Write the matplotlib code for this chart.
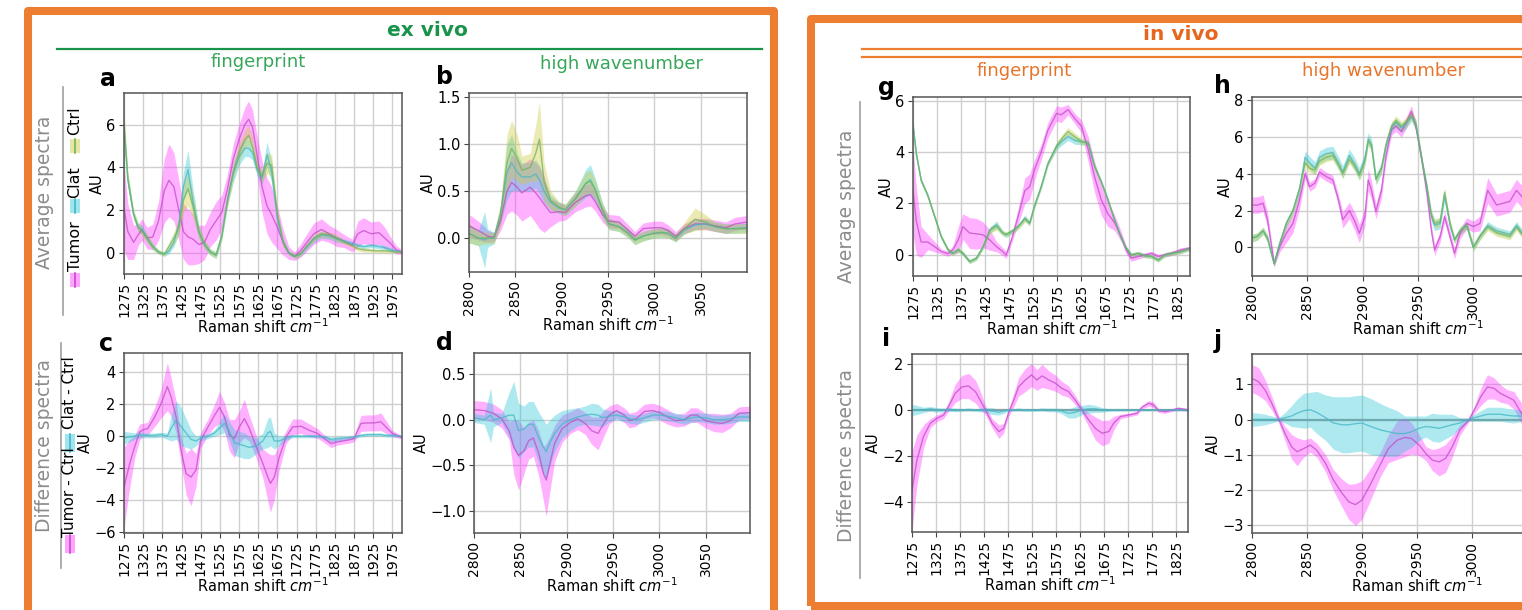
import matplotlib
matplotlib.use("Agg")
import matplotlib.pyplot as plt
import numpy as np
from matplotlib.patches import Rectangle
from matplotlib.lines import Line2D

# ---------------- data ----------------
# (a) ex vivo, fingerprint, average spectra
A_X = [1275,1285,1300,1312,1322,1335,1350,1365,1380,1392,1405,1418,1430,1442,1455,1470,1485,1500,1515,1530,
       1545,1560,1575,1590,1600,1610,1622,1635,1648,1660,1675,1690,1705,1720,1735,1750,1770,1790,1810,1830,
       1850,1870,1885,1900,1920,1940,1955,1970,1985,2000]
A_TUMOR = [2.1,1.0,0.5,0.85,1.1,0.7,0.75,1.5,2.9,3.4,3.1,2.0,1.0,0.75,0.65,0.4,0.5,1.1,1.5,1.9,
           3.0,4.4,5.3,6.0,6.25,5.9,4.6,3.1,2.2,1.8,1.2,0.5,0.0,-0.15,0.1,0.45,0.9,1.1,0.9,0.7,
           0.55,0.35,0.9,1.05,0.9,0.95,0.7,0.45,0.15,0.05]
A_TUMOR_SD = [2.0,1.3,0.8,0.5,0.5,0.5,0.6,0.9,1.5,1.7,1.6,1.4,1.3,1.3,1.2,0.9,0.8,0.8,0.9,0.8,
              0.7,0.7,0.7,0.8,0.85,0.8,0.9,1.2,1.3,1.3,1.0,0.6,0.3,0.2,0.3,0.4,0.5,0.5,0.4,0.4,
              0.3,0.3,0.6,0.6,0.55,0.55,0.5,0.3,0.2,0.1]
A_CLAT = [5.8,3.4,1.8,1.2,1.1,0.7,0.3,0.05,-0.05,0.1,0.5,1.3,3.1,3.9,2.4,1.0,0.4,0.05,-0.1,0.8,
          2.5,3.7,4.5,4.9,4.9,4.7,3.9,3.5,4.6,3.8,1.6,0.5,0.0,-0.15,-0.05,0.25,0.65,0.85,0.8,0.65,
          0.55,0.45,0.35,0.3,0.35,0.3,0.25,0.15,0.1,0.05]
A_CLAT_SD = [0.5,0.3,0.2,0.2,0.2,0.2,0.15,0.1,0.1,0.15,0.2,0.4,0.7,0.9,0.6,0.3,0.2,0.15,0.15,0.2,
             0.3,0.4,0.4,0.4,0.4,0.35,0.3,0.3,0.6,0.5,0.3,0.2,0.1,0.1,0.1,0.1,0.15,0.15,0.15,0.15,
             0.1,0.1,0.1,0.1,0.1,0.1,0.1,0.1,0.05,0.05]
A_CTRL = [6.1,3.5,1.8,1.2,1.0,0.7,0.3,0.05,-0.05,0.3,0.7,1.2,2.5,3.0,2.2,1.0,0.4,0.05,-0.1,0.8,
          2.5,3.8,4.7,5.3,5.5,5.0,4.0,3.6,4.2,4.1,1.8,0.5,0.0,-0.15,-0.05,0.3,0.7,0.9,0.85,0.7,
          0.5,0.35,0.2,0.15,0.12,0.1,0.1,0.08,0.05,0.03]
A_CTRL_SD = [0.5,0.3,0.2,0.2,0.2,0.2,0.15,0.1,0.1,0.2,0.3,0.4,0.6,0.8,0.6,0.3,0.2,0.15,0.15,0.2,
             0.3,0.4,0.4,0.45,0.45,0.4,0.3,0.3,0.5,0.5,0.3,0.2,0.1,0.1,0.1,0.1,0.15,0.15,0.15,0.15,
             0.1,0.1,0.1,0.1,0.08,0.08,0.08,0.08,0.05,0.05]

# (b) ex vivo, high wavenumber, average spectra
B_X = [2800,2810,2817,2820,2827,2834,2841,2846,2852,2857,2866,2872,2876,2881,2888,2897,2904,2915,2926,2931,
       2936,2944,2951,2962,2972,2979,2988,2999,3008,3015,3023,3032,3044,3055,3066,3077,3087,3100]
B_TUMOR = [0.13,0.08,0.04,0.02,0.01,0.18,0.5,0.59,0.54,0.48,0.54,0.48,0.43,0.36,0.27,0.28,0.27,0.38,0.45,0.46,
           0.39,0.25,0.18,0.17,0.08,0.02,0.1,0.11,0.11,0.08,0.02,0.1,0.15,0.15,0.13,0.11,0.15,0.17]
B_TUMOR_SD = [0.12,0.1,0.08,0.06,0.05,0.1,0.25,0.3,0.3,0.3,0.3,0.32,0.33,0.3,0.15,0.1,0.08,0.1,0.12,0.12,
              0.1,0.08,0.07,0.07,0.06,0.05,0.06,0.07,0.07,0.06,0.05,0.05,0.06,0.06,0.06,0.06,0.07,0.07]
B_CLAT = [0.05,0.0,-0.02,0.0,0.0,0.25,0.7,0.8,0.7,0.65,0.65,0.68,0.62,0.5,0.38,0.32,0.3,0.42,0.58,0.62,
          0.52,0.3,0.15,0.12,0.05,-0.02,0.02,0.05,0.06,0.05,0.0,0.08,0.14,0.15,0.12,0.1,0.1,0.11]
B_CLAT_SD = [0.1,0.08,0.3,0.1,0.06,0.1,0.3,0.3,0.2,0.15,0.15,0.15,0.15,0.12,0.08,0.06,0.06,0.08,0.15,0.16,
             0.12,0.08,0.06,0.05,0.05,0.05,0.05,0.05,0.05,0.05,0.04,0.04,0.05,0.05,0.05,0.05,0.05,0.05]
B_CTRL = [0.05,0.0,0.0,0.0,0.0,0.25,0.8,0.95,0.85,0.72,0.75,0.9,1.05,0.6,0.4,0.33,0.3,0.42,0.58,0.6,
          0.52,0.3,0.15,0.12,0.05,-0.02,0.02,0.05,0.06,0.05,0.0,0.1,0.2,0.17,0.12,0.1,0.1,0.1]
B_CTRL_SD = [0.1,0.08,0.06,0.06,0.06,0.12,0.3,0.3,0.25,0.15,0.15,0.3,0.4,0.2,0.1,0.06,0.06,0.08,0.12,0.12,
             0.1,0.08,0.06,0.05,0.05,0.05,0.05,0.05,0.05,0.05,0.04,0.06,0.12,0.08,0.05,0.05,0.05,0.05]

# (c) ex vivo, fingerprint, difference spectra
C_X = [1275,1290,1303,1316,1325,1337,1355,1372,1388,1398,1411,1424,1437,1450,1463,1475,1494,1511,1524,1537,
       1550,1563,1576,1589,1602,1620,1637,1650,1657,1667,1680,1698,1715,1737,1758,1780,1797,1815,1832,1858,
       1875,1893,1910,1927,1945,1958,1975,2000]
C_TUMOR = [-3.2,-1.7,-0.65,0.27,0.4,0.48,1.2,2.05,3.1,2.45,1.2,-0.9,-2.35,-2.55,-2.1,-0.25,0.58,1.3,1.8,1.2,
           0.06,-0.15,0.58,1.1,0.48,-0.67,-1.7,-2.55,-2.95,-2.55,-1.3,-0.04,0.58,0.62,0.37,0.17,-0.15,-0.46,-0.35,-0.25,
           -0.15,0.8,0.83,0.83,0.9,0.58,0.17,-0.08]
C_TUMOR_SD = [2.5,1.5,0.7,0.5,0.4,0.4,0.6,0.9,1.5,1.2,1.0,0.8,1.3,1.8,1.0,0.5,0.5,0.7,1.0,0.9,
              1.0,1.2,1.0,1.2,0.8,0.7,0.9,1.5,1.8,1.4,0.8,0.4,0.5,0.45,0.4,0.3,0.25,0.25,0.2,0.2,
              0.2,0.5,0.5,0.5,0.55,0.4,0.2,0.1]
C_CLAT = [-0.1,-0.05,0.0,0.1,0.05,0.05,0.05,0.1,0.0,0.5,1.0,0.6,0.2,-0.2,-0.3,-0.1,0.0,0.2,0.5,0.8,
          0.3,-0.4,-0.5,-0.6,-0.7,-0.6,-0.3,0.2,0.3,-0.3,-0.3,-0.1,0.0,0.0,0.0,0.0,-0.05,-0.2,-0.15,-0.1,
          -0.05,0.05,0.1,0.1,0.1,0.05,0.05,0.0]
C_CLAT_SD = [0.4,0.3,0.2,0.2,0.15,0.15,0.15,0.15,0.2,0.8,1.2,1.2,0.9,0.6,0.3,0.2,0.15,0.2,0.4,0.6,
             0.6,0.8,0.8,0.8,0.7,0.5,0.5,0.9,0.9,0.5,0.3,0.15,0.1,0.1,0.1,0.1,0.1,0.15,0.15,0.1,
             0.1,0.1,0.1,0.1,0.1,0.1,0.1,0.05]

# (d) ex vivo, high wavenumber, difference spectra
D_X = [2800,2811,2818,2821,2830,2838,2843,2848,2854,2859,2864,2870,2875,2878,2882,2887,2895,2904,2912,2920,
       2927,2934,2939,2946,2954,2962,2968,2975,2984,2993,3000,3009,3018,3027,3034,3041,3050,3059,3068,3077,
       3086,3100]
D_TUMOR = [0.11,0.1,0.08,0.07,0.01,-0.12,-0.3,-0.39,-0.34,-0.23,-0.2,-0.37,-0.59,-0.66,-0.48,-0.26,-0.1,-0.03,0.01,-0.04,
           -0.12,-0.15,-0.06,0.05,0.1,0.05,-0.01,0.01,0.09,0.1,0.08,0.03,-0.01,0.0,0.05,0.05,-0.01,-0.03,-0.04,-0.01,
           0.07,0.08]
D_TUMOR_SD = [0.1,0.1,0.1,0.1,0.1,0.1,0.3,0.38,0.25,0.2,0.2,0.25,0.3,0.4,0.3,0.2,0.15,0.12,0.12,0.12,
              0.15,0.18,0.15,0.1,0.08,0.08,0.08,0.08,0.08,0.08,0.08,0.08,0.07,0.07,0.08,0.08,0.08,0.1,0.1,0.08,
              0.07,0.07]
D_CLAT = [0.02,0.0,0.05,0.0,0.02,0.05,0.05,-0.12,-0.1,-0.05,-0.05,-0.2,-0.3,-0.35,-0.25,-0.15,-0.05,0.0,0.03,0.05,
          0.06,0.05,0.02,0.04,0.05,0.03,0.01,0.0,0.02,0.05,0.05,0.04,0.02,0.0,0.02,0.03,0.02,0.0,0.0,0.01,
          0.03,0.03]
D_CLAT_SD = [0.05,0.05,0.3,0.08,0.05,0.25,0.37,0.3,0.25,0.25,0.25,0.28,0.3,0.3,0.25,0.2,0.15,0.12,0.1,0.1,
             0.12,0.12,0.1,0.06,0.05,0.05,0.05,0.05,0.05,0.05,0.05,0.05,0.05,0.05,0.05,0.05,0.05,0.05,0.05,0.05,
             0.05,0.05]

# (g) in vivo, fingerprint, average spectra
G_X = [1275,1282,1292,1306,1320,1334,1348,1358,1369,1379,1393,1407,1421,1435,1449,1462,1469,1480,1494,1508,
       1518,1528,1542,1556,1574,1584,1598,1612,1626,1640,1653,1667,1681,1695,1709,1719,1730,1744,1758,1772,
       1786,1799,1813,1834,1852]
G_TUMOR = [2.5,1.3,0.5,0.5,0.32,0.13,0.05,0.2,0.58,1.1,0.85,0.82,0.78,0.58,0.32,0.13,0.0,0.58,1.5,2.5,
           2.65,3.3,4.0,4.85,5.5,5.45,5.65,5.3,5.0,4.1,3.05,2.15,1.6,1.25,0.7,0.2,-0.13,-0.06,0.0,0.06,
           -0.06,0.0,0.06,0.2,0.26]
G_TUMOR_SD = [1.7,1.3,0.6,0.3,0.2,0.1,0.1,0.15,0.5,0.5,0.6,0.6,0.5,0.4,0.2,0.15,0.15,0.15,0.3,0.5,
              0.5,0.4,0.3,0.3,0.3,0.3,0.2,0.2,0.25,0.5,0.6,0.6,0.5,0.3,0.2,0.15,0.12,0.1,0.08,0.08,
              0.08,0.08,0.08,0.08,0.08]
G_CLAT = [5.1,3.95,2.9,2.3,1.5,0.7,0.2,0.06,0.2,0.06,-0.26,-0.13,0.32,0.97,1.17,0.85,0.78,0.9,1.1,1.43,
          1.23,1.9,2.65,3.55,4.2,4.4,4.6,4.45,4.4,4.35,3.45,2.85,2.15,1.35,0.65,0.26,0.0,0.06,-0.03,-0.06,
          -0.2,0.0,0.06,0.13,0.26]
G_CLAT_SD = [0.1,0.1,0.08,0.08,0.08,0.08,0.08,0.08,0.1,0.08,0.08,0.08,0.1,0.12,0.15,0.1,0.1,0.1,0.1,0.12,
             0.1,0.1,0.1,0.1,0.12,0.15,0.15,0.15,0.12,0.1,0.1,0.08,0.08,0.08,0.08,0.08,0.08,0.08,0.08,0.08,
             0.08,0.08,0.08,0.08,0.08]
G_CTRL = [5.0,3.9,2.9,2.3,1.5,0.7,0.2,0.06,0.2,0.06,-0.26,-0.13,0.32,0.95,1.12,0.85,0.8,0.9,1.1,1.4,
          1.23,1.9,2.65,3.55,4.25,4.5,4.8,4.6,4.4,4.35,3.45,2.85,2.15,1.35,0.65,0.26,0.0,0.06,-0.03,-0.06,
          -0.2,0.0,0.06,0.13,0.26]
G_CTRL_SD = [0.1,0.1,0.08,0.08,0.08,0.08,0.08,0.08,0.1,0.08,0.08,0.08,0.1,0.12,0.15,0.1,0.1,0.1,0.1,0.12,
             0.1,0.1,0.1,0.1,0.12,0.15,0.15,0.15,0.12,0.1,0.1,0.08,0.08,0.08,0.08,0.08,0.08,0.08,0.08,0.08,
             0.08,0.08,0.08,0.08,0.08]

# (h) in vivo, high wavenumber, average spectra
H_X = [2800,2805,2810,2814,2820,2825,2831,2837,2843,2848,2852,2857,2861,2867,2873,2878,2882,2888,2893,2897,
       2902,2905,2908,2912,2917,2921,2926,2930,2935,2939,2944,2948,2953,2958,2962,2965,2970,2974,2979,2983,
       2988,2994,3000,3006,3013,3021,3027,3033,3039,3044,3060,3080,3100]
H_TUMOR = [2.3,2.3,2.4,1.5,-0.87,0.04,0.76,1.3,2.6,4.0,3.3,3.5,4.1,3.85,3.67,2.6,1.5,2.0,1.4,0.76,
           1.67,3.67,3.1,1.95,3.1,4.95,6.4,6.6,6.3,6.75,7.4,6.6,4.95,2.95,0.95,-0.15,0.58,1.67,0.58,-0.33,
           0.76,1.3,1.13,1.3,3.1,2.3,2.4,2.5,3.1,2.75,2.6,2.8,2.5]
H_TUMOR_SD = [0.45,0.45,0.45,0.4,0.2,0.3,0.5,0.5,0.5,0.3,0.25,0.25,0.25,0.25,0.25,0.3,0.45,0.45,0.5,0.5,
              0.5,0.6,0.5,0.4,0.4,0.3,0.3,0.3,0.3,0.3,0.3,0.3,0.2,0.3,0.3,0.3,0.3,0.3,0.3,0.3,
              0.3,0.3,0.3,0.4,0.7,0.6,0.6,0.6,0.6,0.6,0.6,0.6,0.6]
H_CLAT = [0.5,0.6,0.9,0.5,-0.9,0.2,1.3,2.0,3.2,4.9,4.6,4.3,4.9,5.1,5.15,4.6,4.1,5.0,4.5,4.0,
          4.8,5.9,5.6,3.7,4.3,5.5,6.5,6.8,6.5,6.7,7.1,6.7,4.9,3.3,1.7,1.2,1.3,2.8,1.2,0.4,
          0.9,1.2,0.0,0.6,1.2,0.9,0.8,0.7,1.2,0.8,0.9,1.0,0.8]
H_CLAT_SD = [0.2,0.2,0.2,0.2,0.15,0.2,0.2,0.2,0.3,0.35,0.35,0.35,0.35,0.35,0.35,0.35,0.35,0.35,0.35,0.35,
             0.35,0.35,0.3,0.3,0.3,0.25,0.25,0.25,0.25,0.25,0.25,0.25,0.2,0.2,0.3,0.3,0.3,0.3,0.2,0.2,
             0.2,0.2,0.2,0.2,0.2,0.2,0.2,0.2,0.2,0.2,0.2,0.2,0.2]
H_CTRL = [0.5,0.6,0.9,0.5,-0.9,0.2,1.3,2.0,3.2,4.6,4.3,4.2,4.7,4.9,5.0,4.5,4.0,4.8,4.4,3.9,
          4.7,5.8,5.5,3.7,4.3,5.6,6.6,6.9,6.6,6.8,7.2,6.7,4.9,3.3,1.8,1.3,1.4,3.0,1.3,0.4,
          0.9,1.2,0.0,0.6,1.1,0.8,0.7,0.6,1.1,0.7,0.8,0.9,0.7]
H_CTRL_SD = [0.2,0.2,0.2,0.2,0.15,0.2,0.2,0.2,0.25,0.25,0.25,0.25,0.25,0.25,0.25,0.25,0.25,0.25,0.25,0.25,
             0.25,0.25,0.25,0.25,0.25,0.25,0.25,0.25,0.25,0.25,0.25,0.25,0.2,0.2,0.25,0.25,0.25,0.25,0.2,0.2,
             0.2,0.2,0.2,0.2,0.2,0.2,0.2,0.2,0.2,0.2,0.2,0.2,0.2]

# (i) in vivo, fingerprint, difference spectra
I_X = [1275,1285,1299,1313,1327,1341,1351,1365,1379,1393,1407,1417,1428,1442,1456,1466,1476,1487,1497,1511,
       1524,1535,1546,1560,1574,1587,1601,1615,1629,1643,1657,1671,1685,1695,1709,1726,1744,1754,1768,1778,
       1789,1803,1817,1830,1850]
I_TUMOR = [-3.5,-2.2,-1.15,-0.58,-0.36,-0.22,0.14,0.72,1.0,1.04,0.8,0.43,0.0,-0.58,-0.94,-0.8,-0.14,0.43,1.0,1.3,
           1.52,1.3,1.48,1.3,1.16,0.94,0.8,0.43,0.0,-0.43,-0.8,-1.01,-0.94,-0.58,-0.29,-0.22,-0.14,0.12,0.29,0.22,
           -0.03,-0.07,0.0,0.07,0.0]
I_TUMOR_SD = [1.7,1.1,0.5,0.2,0.15,0.15,0.2,0.4,0.5,0.55,0.5,0.4,0.2,0.2,0.3,0.2,0.15,0.3,0.4,0.5,
              0.5,0.45,0.5,0.4,0.35,0.3,0.25,0.2,0.15,0.3,0.5,0.55,0.5,0.3,0.1,0.08,0.08,0.08,0.12,0.12,
              0.08,0.08,0.06,0.06,0.06]
I_CLAT = [0.0,0.0,0.0,0.05,0.0,0.0,0.02,0.0,0.0,0.02,0.0,0.0,0.0,-0.05,-0.1,-0.05,0.0,0.0,0.02,0.0,
          0.0,0.0,0.02,0.0,0.0,-0.05,-0.15,-0.1,0.0,0.05,0.05,0.0,0.0,0.0,0.0,0.0,0.0,0.0,0.0,0.0,
          0.0,0.0,0.0,0.0,0.0]
I_CLAT_SD = [0.25,0.2,0.12,0.1,0.1,0.08,0.08,0.08,0.06,0.06,0.06,0.08,0.1,0.15,0.12,0.1,0.06,0.06,0.06,0.06,
             0.06,0.06,0.06,0.08,0.08,0.12,0.2,0.25,0.2,0.2,0.15,0.1,0.06,0.05,0.05,0.04,0.04,0.04,0.04,0.04,
             0.04,0.04,0.04,0.04,0.04]

# (j) in vivo, high wavenumber, difference spectra
J_X = [2800,2806,2812,2818,2824,2830,2836,2841,2847,2853,2859,2867,2874,2882,2888,2894,2900,2908,2917,2924,
       2932,2939,2945,2952,2958,2964,2970,2976,2982,2989,2997,3002,3008,3014,3020,3026,3032,3038,3046,3060,
       3080,3100]
J_TUMOR = [1.17,1.08,0.84,0.46,0.03,-0.4,-0.78,-0.92,-0.83,-0.73,-0.88,-1.26,-1.73,-2.11,-2.35,-2.43,-2.3,-1.83,-1.26,-0.83,
           -0.59,-0.51,-0.54,-0.73,-0.97,-1.16,-1.21,-1.11,-0.78,-0.3,-0.02,0.27,0.65,0.93,0.89,0.74,0.65,0.55,0.12,0.05,
           0.05,0.0]
J_TUMOR_SD = [0.4,0.4,0.3,0.2,0.1,0.2,0.35,0.4,0.25,0.2,0.2,0.25,0.3,0.4,0.5,0.6,0.55,0.45,0.35,0.4,
              0.55,0.55,0.45,0.3,0.2,0.3,0.4,0.4,0.3,0.15,0.05,0.1,0.25,0.35,0.3,0.25,0.2,0.25,0.3,0.2,
              0.2,0.2]
J_CLAT = [0.0,0.0,0.0,0.0,0.0,0.05,0.1,0.18,0.25,0.28,0.2,0.05,-0.1,-0.15,-0.15,-0.12,-0.1,-0.2,-0.3,-0.35,
          -0.4,-0.4,-0.35,-0.25,-0.2,-0.22,-0.25,-0.2,-0.15,-0.1,0.0,0.05,0.1,0.15,0.15,0.15,0.12,0.1,0.1,0.08,
          0.05,0.05]
J_CLAT_SD = [0.2,0.18,0.15,0.1,0.05,0.15,0.3,0.4,0.5,0.5,0.6,0.65,0.75,0.8,0.8,0.8,0.8,0.8,0.75,0.7,
             0.65,0.5,0.45,0.35,0.3,0.4,0.4,0.35,0.3,0.15,0.05,0.1,0.15,0.2,0.2,0.2,0.2,0.2,0.15,0.15,
             0.15,0.15]

FP_TICKS_EX = list(range(1275, 2000, 50))
FP_TICKS_IN = list(range(1275, 1850, 50))
HW_TICKS = list(range(2800, 3100, 50))
HW_TICKS_IN = list(range(2800, 3050, 50))
XLABEL = r"Raman shift $cm^{-1}$"

# ---------------- styling ----------------
W, H = 1522, 610
fig = plt.figure(figsize=(W / 100, H / 100), dpi=100)

TUM_F, TUM_L = "#ff33ff", "#c24cc8"
CLAT_F, CLAT_L = "#2cc6d8", "#45b7c4"
CTRL_F, CTRL_L = "#c9c935", "#72b35e"
GREEN, GREEN2 = "#17934a", "#35a65a"
ORANGE, ORANGE2 = "#ec7d31", "#e8742a"
GRAY_TXT = "#8c8c8c"


def fx(x):
    return x / W


def fy(y):
    return 1 - y / H


def rect(l, t, r, b):
    return [l / W, 1 - b / H, (r - l) / W, (b - t) / H]


def make_ax(box, xlim, ylim, xticks, yticks):
    ax = fig.add_axes(rect(*box))
    ax.set_xlim(*xlim)
    ax.set_ylim(*ylim)
    ax.set_xticks(xticks)
    ax.set_yticks(yticks)
    ax.tick_params(axis="x", labelrotation=90, labelsize=10, length=3.5, color="#444444", pad=2)
    ax.tick_params(axis="y", labelsize=10.5, length=3.5, color="#444444", pad=2.5)
    ax.grid(True, color="#cfcfcf", lw=1.0)
    ax.set_axisbelow(True)
    for s in ax.spines.values():
        s.set_color("#555555")
        s.set_linewidth(1.1)
    ax.set_xlabel(XLABEL, fontsize=10.5, labelpad=0.5)
    ax.set_ylabel("AU", fontsize=10.5, labelpad=1)
    return ax


def band(ax, x, m, s, fc, lc, alpha=0.38):
    x = np.asarray(x)
    m = np.asarray(m)
    s = np.asarray(s)
    ax.fill_between(x, m - s, m + s, color=fc, alpha=alpha, lw=0)
    ax.plot(x, m, color=lc, lw=1.0, alpha=0.75)


# ---------------- panels ----------------
ax_a = make_ax((124, 93, 402, 274), (1275, 2000), (-0.98, 7.48), FP_TICKS_EX, [0, 2, 4, 6])
band(ax_a, A_X, A_TUMOR, A_TUMOR_SD, TUM_F, TUM_L)
band(ax_a, A_X, A_CLAT, A_CLAT_SD, CLAT_F, CLAT_L)
band(ax_a, A_X, A_CTRL, A_CTRL_SD, CTRL_F, CTRL_L)

ax_b = make_ax((469, 93, 747, 272), (2800, 3100), (-0.36, 1.54), HW_TICKS, [0.0, 0.5, 1.0, 1.5])
band(ax_b, B_X, B_TUMOR, B_TUMOR_SD, TUM_F, TUM_L)
band(ax_b, B_X, B_CLAT, B_CLAT_SD, CLAT_F, CLAT_L)
band(ax_b, B_X, B_CTRL, B_CTRL_SD, CTRL_F, CTRL_L)

ax_c = make_ax((124, 353, 402, 533), (1275, 2000), (-6.05, 5.2), FP_TICKS_EX, [-6, -4, -2, 0, 2, 4])
band(ax_c, C_X, C_TUMOR, C_TUMOR_SD, TUM_F, TUM_L)
band(ax_c, C_X, C_CLAT, C_CLAT_SD, CLAT_F, CLAT_L)

ax_d = make_ax((474, 353, 750, 533), (2802, 3098), (-1.24, 0.73), HW_TICKS, [-1.0, -0.5, 0.0, 0.5])
band(ax_d, D_X, D_TUMOR, D_TUMOR_SD, TUM_F, TUM_L)
band(ax_d, D_X, D_CLAT, D_CLAT_SD, CLAT_F, CLAT_L)

ax_g = make_ax((913, 97, 1190, 276), (1275, 1852), (-0.82, 6.14), FP_TICKS_IN, [0, 2, 4, 6])
band(ax_g, G_X, G_TUMOR, G_TUMOR_SD, TUM_F, TUM_L)
band(ax_g, G_X, G_CLAT, G_CLAT_SD, CLAT_F, CLAT_L)
band(ax_g, G_X, G_CTRL, G_CTRL_SD, CTRL_F, CTRL_L)

ax_h = make_ax((1252, 97, 1584, 276), (2800, 3100), (-1.56, 8.18), HW_TICKS_IN, [0, 2, 4, 6, 8])
band(ax_h, H_X, H_TUMOR, H_TUMOR_SD, TUM_F, TUM_L)
band(ax_h, H_X, H_CLAT, H_CLAT_SD, CLAT_F, CLAT_L)
band(ax_h, H_X, H_CTRL, H_CTRL_SD, CTRL_F, CTRL_L)

ax_i = make_ax((912, 354, 1188, 532), (1275, 1850), (-5.3, 2.43), FP_TICKS_IN, [-4, -2, 0, 2])
ax_i.axhline(0, color="#9a9a9a", lw=1.6, zorder=1)
band(ax_i, I_X, I_TUMOR, I_TUMOR_SD, TUM_F, TUM_L)
band(ax_i, I_X, I_CLAT, I_CLAT_SD, CLAT_F, CLAT_L)

ax_j = make_ax((1252, 354, 1582, 533), (2800, 3100), (-3.24, 1.87), HW_TICKS_IN, [-3, -2, -1, 0, 1])
ax_j.axhline(0, color="#9a9a9a", lw=1.6, zorder=1)
band(ax_j, J_X, J_TUMOR, J_TUMOR_SD, TUM_F, TUM_L)
band(ax_j, J_X, J_CLAT, J_CLAT_SD, CLAT_F, CLAT_L)

# ---------------- decorations ----------------
# orange frames
fig.add_artist(Rectangle((fx(28), fy(625)), (774 - 28) / W, (625 - 11) / H, transform=fig.transFigure,
                         fill=False, ec=ORANGE, lw=5.8, joinstyle="round", clip_on=False))
fig.add_artist(Rectangle((fx(811), fy(606)), (1560 - 811) / W, (606 - 19) / H, transform=fig.transFigure,
                         fill=False, ec=ORANGE, lw=5.8, joinstyle="round", clip_on=False))

# section headers
fig.text(fx(427), fy(31), "ex vivo", color=GREEN, fontsize=14.5, fontweight="bold", ha="center", va="center")
fig.add_artist(Line2D([fx(57), fx(762)], [fy(49), fy(49)], color=GREEN, lw=1.6))
fig.text(fx(258), fy(62), "fingerprint", color=GREEN2, fontsize=13, ha="center", va="center")
fig.text(fx(622), fy(64), "high wavenumber", color=GREEN2, fontsize=13, ha="center", va="center")

fig.text(fx(1181), fy(35), "in vivo", color="#e5661c", fontsize=14.5, fontweight="bold", ha="center", va="center")
fig.add_artist(Line2D([fx(862), fx(1522)], [fy(49), fy(49)], color=ORANGE, lw=1.6))
fig.add_artist(Line2D([fx(862), fx(1522)], [fy(57), fy(57)], color=ORANGE, lw=1.6))
fig.text(fx(1024), fy(71), "fingerprint", color=ORANGE2, fontsize=13, ha="center", va="center")
fig.text(fx(1384), fy(71), "high wavenumber", color=ORANGE2, fontsize=13, ha="center", va="center")

# panel letters
for s, x, y in [("a", 108, 79), ("b", 445, 77), ("c", 106, 344), ("d", 444, 343),
                ("g", 886, 88), ("h", 1222, 86), ("i", 886, 339), ("j", 1218, 341)]:
    fig.text(fx(x), fy(y), s, fontsize=17, fontweight="bold", ha="center", va="center")

# row titles and separators
fig.text(fx(45), fy(192), "Average spectra", color=GRAY_TXT, fontsize=13.5, rotation=90, ha="center", va="center")
fig.text(fx(45), fy(445), "Difference spectra", color=GRAY_TXT, fontsize=13.5, rotation=90, ha="center", va="center")
fig.text(fx(846), fy(206), "Average spectra", color=GRAY_TXT, fontsize=13.5, rotation=90, ha="center", va="center")
fig.text(fx(846), fy(456), "Difference spectra", color=GRAY_TXT, fontsize=13.5, rotation=90, ha="center", va="center")
fig.add_artist(Line2D([fx(63), fx(63)], [fy(87), fy(315)], color="#a0a0a0", lw=1.2))
fig.add_artist(Line2D([fx(61), fx(61)], [fy(343), fy(568)], color="#a0a0a0", lw=1.2))
fig.add_artist(Line2D([fx(860), fx(860)], [fy(102), fy(578)], color="#a0a0a0", lw=1.2))


# rotated legends (ex vivo)
def handle(xc, yc, h, fc, lc):
    fig.add_artist(Rectangle((fx(xc - 5), fy(yc + h / 2)), 10 / W, h / H, transform=fig.transFigure,
                             fc=fc, alpha=0.45, lw=0))
    fig.add_artist(Line2D([fx(xc), fx(xc)], [fy(yc + h / 2), fy(yc - h / 2)], color=lc, lw=1.2))


handle(75, 280, 14, TUM_F, TUM_L)
fig.text(fx(75), fy(246), "Tumor", fontsize=11.5, rotation=90, ha="center", va="center")
handle(75, 206, 14, CLAT_F, CLAT_L)
fig.text(fx(75), fy(182), "Clat", fontsize=11.5, rotation=90, ha="center", va="center")
handle(75, 146, 14, CTRL_F, CTRL_L)
fig.text(fx(75), fy(121), "Ctrl", fontsize=11.5, rotation=90, ha="center", va="center")

handle(70, 544, 18, TUM_F, TUM_L)
fig.text(fx(70), fy(492), "Tumor - Ctrl", fontsize=11, rotation=90, ha="center", va="center")
handle(70, 443, 18, CLAT_F, CLAT_L)
fig.text(fx(70), fy(393), "Clat - Ctrl", fontsize=11, rotation=90, ha="center", va="center")

fig.savefig("out.png", dpi=100)
